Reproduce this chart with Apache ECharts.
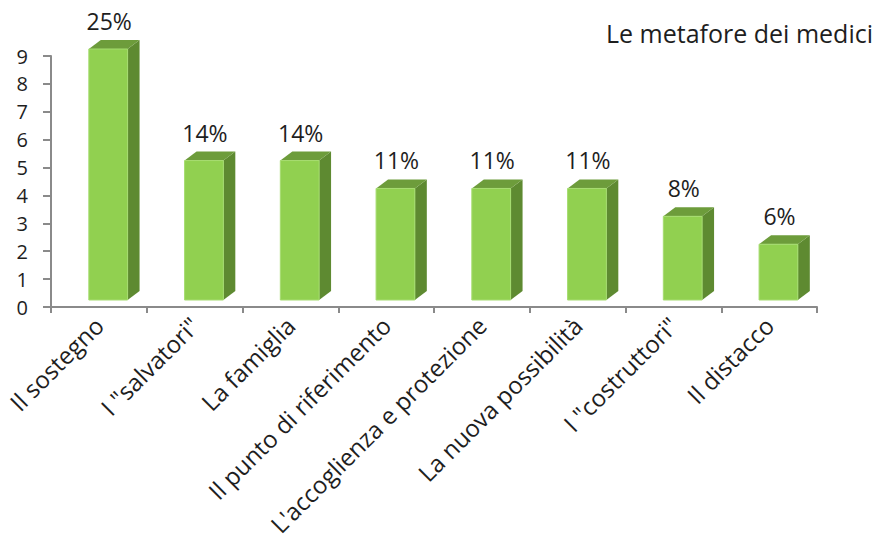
<!DOCTYPE html>
<html><head><meta charset="utf-8">
<script src="https://cdn.jsdelivr.net/npm/echarts@6/dist/echarts.min.js"></script>
<style>html,body{margin:0;padding:0;background:#fff}#c{width:885px;height:542px}</style>
</head><body><div id="c"></div>
<script>
var categories = ['Il sostegno', 'I "salvatori"', 'La famiglia', 'Il punto di riferimento', "L'accoglienza e protezione", 'La nuova possibilità', 'I "costruttori"', 'Il distacco'];
var values = [9, 5, 5, 4, 4, 4, 3, 2];
var percentLabels = ['25%', '14%', '14%', '11%', '11%', '11%', '8%', '6%'];
var yTicks = [0, 1, 2, 3, 4, 5, 6, 7, 8, 9];
var titleText = 'Le metafore dei medici';

var FONT = 'Open Sans';
var chart = echarts.init(document.getElementById('c'), null, {renderer: 'svg'});
var data = values.map(function (v, i) { return [i, v]; });

function renderItem(params, api) {
  var idx = api.value(0), v = api.value(1);
  var base = api.coord([idx, 0]);
  var topPt = api.coord([idx, v]);
  var bw = api.size([1, 0])[0];
  var c = base[0];
  var lift = 7;
  var left = c - 0.105 * bw, w = 0.405 * bw, right = left + w;
  var dx = 0.125 * bw, dy = 9;
  var bottom = base[1] - lift, top = topPt[1] - lift;
  return {
    type: 'group',
    children: [
      {type: 'polygon', shape: {points: [[right, top], [right + dx, top - dy], [right + dx, bottom - dy], [right, bottom]]},
       style: {fill: '#5e8a31'}},
      {type: 'polygon', shape: {points: [[left, top], [left + dx, top - dy], [right + dx, top - dy], [right, top]]},
       style: {fill: '#6d9c3b'}},
      {type: 'rect', shape: {x: left, y: top, width: w, height: bottom - top},
       style: {fill: '#91d050', stroke: '#a6dc70', lineWidth: 1}},
      {type: 'text', x: left + w / 2 + 1, y: top - dy - 19,
       style: {text: percentLabels[idx], fill: '#1e1e1e', fontSize: 23, fontFamily: FONT, align: 'center', verticalAlign: 'middle'}}
    ]
  };
}

chart.setOption({
  animation: false,
  title: {text: titleText, right: 7, top: 15, textStyle: {fontFamily: FONT, fontSize: 25, fontWeight: 'normal', color: '#1e1e1e'}},
  grid: {left: 51, right: 68, top: 56, bottom: 235},
  xAxis: {
    type: 'category', data: categories, boundaryGap: true,
    axisLine: {lineStyle: {color: '#8a8a8a', width: 2}},
    axisTick: {show: true, length: 6, lineStyle: {color: '#8a8a8a', width: 2}},
    axisLabel: {rotate: 45, interval: 0, margin: 14, fontFamily: FONT, fontSize: 24, color: '#1e1e1e'}
  },
  yAxis: {
    type: 'value', min: yTicks[0], max: yTicks[yTicks.length - 1], interval: 1,
    splitLine: {show: false},
    axisLine: {show: true, lineStyle: {color: '#8a8a8a', width: 2}},
    axisTick: {show: true, length: 8, lineStyle: {color: '#8a8a8a', width: 2}},
    axisLabel: {margin: 23, fontFamily: FONT, fontSize: 20, lineHeight: 20, color: '#1e1e1e'}
  },
  series: [{type: 'custom', renderItem: renderItem, data: data, clip: false}]
});
</script></body></html>
